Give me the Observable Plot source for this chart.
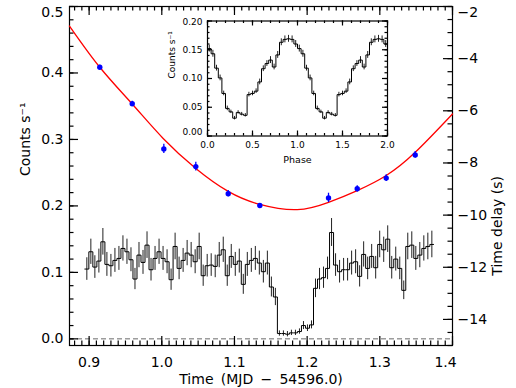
<!DOCTYPE html>
<html><head><meta charset="utf-8">
<script src="https://cdn.jsdelivr.net/npm/d3@7"></script>
<script src="https://cdn.jsdelivr.net/npm/@observablehq/plot@0.6"></script>
<style>
body{margin:0;background:#fff;}
#chart{position:relative;width:516px;height:388px;}
#chart svg{position:absolute;left:0;top:0;}
</style></head><body><div id="chart"></div>
<script>
// ---------- data ----------
const lcStart = 0.8941;       // start of first light-curve bin (MJD - 54596.0)
const lcBinWidth = 0.00552;   // bin width (days)
const lcCounts = [
  0.105,0.131,0.108,0.117,0.146,0.112,0.110,0.118,0.121,0.136,
  0.131,0.119,0.090,0.126,0.115,0.141,0.104,0.121,0.131,0.121,
  0.116,0.089,0.139,0.106,0.118,0.129,0.126,0.116,0.139,0.095,
  0.110,0.111,0.109,0.126,0.134,0.095,0.124,0.112,0.117,0.082,
  0.112,0.118,0.121,0.114,0.101,0.114,0.078,0.063,0.008,0.008,
  0.007,0.009,0.009,0.011,0.020,0.016,0.021,0.076,0.090,0.092,
  0.106,0.160,0.111,0.101,0.104,0.104,0.114,0.116,0.094,0.127,
  0.106,0.124,0.107,0.142,0.134,0.150,0.107,0.120,0.106,0.073,
  0.139,0.141,0.121,0.126,0.136,0.139,0.142];
const lcErrors = [
  0.017,0.019,0.017,0.018,0.020,0.018,0.017,0.018,0.018,0.019,
  0.019,0.018,0.016,0.019,0.018,0.020,0.017,0.018,0.019,0.018,
  0.018,0.016,0.020,0.017,0.018,0.019,0.019,0.018,0.020,0.016,
  0.017,0.017,0.017,0.019,0.019,0.016,0.018,0.018,0.018,0.015,
  0.018,0.018,0.018,0.018,0.017,0.018,0.015,0.013,0.004,0.004,
  0.004,0.004,0.004,0.004,0.006,0.005,0.006,0.014,0.016,0.016,
  0.017,0.021,0.017,0.017,0.017,0.017,0.018,0.018,0.016,0.019,
  0.017,0.018,0.017,0.020,0.019,0.020,0.017,0.018,0.017,0.014,
  0.020,0.020,0.018,0.019,0.019,0.020,0.020];

const delayTimes  = [0.9147,0.9593,1.0028,1.0468,1.0914,1.1349,1.2294,1.2689,1.3088,1.3487];
const delayValues = [-4.33,-5.73,-7.46,-8.14,-9.18,-9.63,-9.34,-8.99,-8.58,-7.69];
const delayErrors = [0.08,0.10,0.18,0.17,0.12,0.08,0.18,0.12,0.13,0.13];

const fitTimes  = [0.873,0.9147,0.9593,1.0019,1.0468,1.0914,1.1349,1.1863,1.2294,1.2689,1.3088,1.3487,1.4];
const fitDelays = [-2.75,-4.33,-5.74,-7.06,-8.21,-9.09,-9.59,-9.79,-9.51,-9.06,-8.48,-7.59,-6.12];

const phaseBinWidth = 0.04;
const phaseCounts = [0.152,0.143,0.118,0.101,0.074,0.048,0.042,0.031,0.041,0.038,
  0.036,0.072,0.074,0.078,0.094,0.117,0.126,0.132,0.120,0.141,
  0.163,0.168,0.169,0.168,0.160];
const phaseErrors = [0.006,0.006,0.005,0.005,0.004,0.004,0.003,0.003,0.003,0.003,
  0.003,0.004,0.004,0.004,0.005,0.005,0.005,0.006,0.005,0.006,
  0.006,0.006,0.006,0.006,0.006];
const phaseCycles = [0, 1];

// tick labels
const timeTicks = [0.9,1.0,1.1,1.2,1.3,1.4];
const timeMinor = d3.range(88,141).map(i => i/100);
const countTicks = [0.0,0.1,0.2,0.3,0.4,0.5];
const countMinor = d3.range(0,26).map(i => i*0.02);
const delayTicks = [-14,-12,-10,-8,-6,-4,-2];
const delayMinor = d3.range(-30,-3).map(i => i/2);
const phaseTicks = [0,0.5,1,1.5,2];
const phaseMinor = d3.range(0,21).map(i => i/10);
const phaseCountTicks = [0,0.05,0.10,0.15,0.20];
const phaseCountMinor = d3.range(0,21).map(i => i/100);

// ---------- build ----------
const W = 516, H = 388;
const font = "DejaVu Sans";
const style = {background:"transparent", fontFamily: font, overflow:"visible"};
const tickStroke = {stroke:"#000", strokeWidth:1.2};

// inward tick marks as short rules; lengths given in px, converted through the scale spans
function frameTicks(xDom, yDom, fw, fh, sides) {
  const kx = (xDom[1]-xDom[0]) / fw, ky = (yDom[1]-yDom[0]) / fh;
  const marks = [];
  for (const [side, vals, len] of sides) {
    if (side === "bottom") marks.push(Plot.ruleX(vals, {x: d => d, y1: yDom[0], y2: yDom[0] + len*ky, ...tickStroke}));
    if (side === "top")    marks.push(Plot.ruleX(vals, {x: d => d, y1: yDom[1] - len*ky, y2: yDom[1], ...tickStroke}));
    if (side === "left")   marks.push(Plot.ruleY(vals, {y: d => d, x1: xDom[0], x2: xDom[0] + len*kx, ...tickStroke}));
    if (side === "right")  marks.push(Plot.ruleY(vals, {y: d => d, x1: xDom[1] - len*kx, x2: xDom[1], ...tickStroke}));
  }
  return marks;
}

const mainM = {marginLeft:69, marginRight:64, marginTop:6, marginBottom:43};
const mainFW = W - 69 - 64, mainFH = H - 6 - 43;
const timeDom = [0.873, 1.4], countDom = [-0.01, 0.5], delayDom = [-15, -2];

const lc = lcCounts.map((c,i) => ({start: lcStart + i*lcBinWidth, mid: lcStart + (i+0.5)*lcBinWidth, c, e: lcErrors[i]}));
const lcLine = lc.map(d => ({t: d.start, c: d.c})).concat([{t: lcStart + lcCounts.length*lcBinWidth, c: lcCounts[lcCounts.length-1]}]);

const countsPlot = Plot.plot({
  width: W, height: H, ...mainM, style,
  x: {domain: timeDom, axis:null, label:null},
  y: {domain: countDom, axis:null, label:null},
  marks: [
    Plot.ruleY([0], {stroke:"#6a6a6a", strokeDasharray:"5,3", strokeWidth:1}),
    Plot.ruleX(lc, {x:"mid", y1: d => d.c - d.e, y2: d => d.c + d.e, stroke:"#222", strokeWidth:1}),
    Plot.line(lcLine, {x:"t", y:"c", curve:"step-after", stroke:"#000", strokeWidth:1}),
    Plot.frame({stroke:"#000", strokeWidth:1.2}),
    ...frameTicks(timeDom, countDom, mainFW, mainFH, [
      ["bottom", timeTicks, 9], ["bottom", timeMinor, 4.5],
      ["top", timeTicks, 9], ["top", timeMinor, 4.5],
      ["left", countTicks, 9], ["left", countMinor, 4.5]]),
    Plot.text(timeTicks.slice(0,-1), {x: d => d, text: d => d.toFixed(1), frameAnchor:"bottom", lineAnchor:"top", dy:12, fontSize:14}),
    Plot.text(timeTicks.slice(-1), {x: d => d, text: d => d.toFixed(1), frameAnchor:"bottom", lineAnchor:"top", dy:12, dx:-7, fontSize:14}),
    Plot.text(countTicks.slice(0,-1), {y: d => d, text: d => d.toFixed(1), frameAnchor:"left", textAnchor:"end", lineAnchor:"middle", dx:-6, fontSize:14}),
    Plot.text(countTicks.slice(-1), {y: d => d, text: d => d.toFixed(1), frameAnchor:"left", textAnchor:"end", lineAnchor:"middle", dx:-6, dy:6, fontSize:14}),
    Plot.text(["Counts s\u207B\u00B9"], {frameAnchor:"left", dx:-44, rotate:-90, lineAnchor:"middle", fontSize:14}),
    Plot.text(["Time\u2009 (MJD\u2009 \u2212\u2009 54596.0)"], {frameAnchor:"bottom", dy:38.5, lineAnchor:"bottom", fontSize:14})
  ]
});

const delays = delayTimes.map((t,i) => ({t, d: delayValues[i], e: delayErrors[i]}));
const fit = fitTimes.map((t,i) => ({t, d: fitDelays[i]}));
const fmtInt = d3.format("d");

const delayPlot = Plot.plot({
  width: W, height: H, ...mainM, style,
  x: {domain: timeDom, axis:null, label:null},
  y: {domain: delayDom, axis:null, label:null},
  marks: [
    Plot.line(fit, {x:"t", y:"d", curve:"natural", stroke:"#ff0000", strokeWidth:1.3}),
    Plot.ruleX(delays, {x:"t", y1: d => d.d - d.e, y2: d => d.d + d.e, stroke:"#0000ff", strokeWidth:1.3}),
    Plot.dot(delays, {x:"t", y:"d", r:2.7, fill:"#0000ff", stroke:"none"}),
    ...frameTicks(timeDom, delayDom, mainFW, mainFH, [["right", delayTicks, 9], ["right", delayMinor, 4.5]]),
    Plot.text(delayTicks.slice(0,-1), {y: d => d, text: d => fmtInt(d), frameAnchor:"right", textAnchor:"start", lineAnchor:"middle", dx:5, fontSize:14}),
    Plot.text(delayTicks.slice(-1), {y: d => d, text: d => fmtInt(d), frameAnchor:"right", textAnchor:"start", lineAnchor:"middle", dx:5, dy:6, fontSize:14}),
    Plot.text(["Time delay (s)"], {frameAnchor:"right", dx:45.5, rotate:-90, lineAnchor:"middle", fontSize:14})
  ]
});

const ph = phaseCycles.flatMap(cyc => phaseCounts.map((c,i) => ({
  start: cyc + i*phaseBinWidth, mid: cyc + (i+0.5)*phaseBinWidth, c, e: phaseErrors[i]})));
const phLine = ph.map(d => ({p: d.start, c: d.c})).concat([{p: phaseCycles.length, c: phaseCounts[phaseCounts.length-1]}]);
const insetM = {marginLeft:207, marginRight:129, marginTop:20.5, marginBottom:252.5};
const insetFW = W - 207 - 129, insetFH = H - 20.5 - 252.5;
const phaseDom = [0, 2], phaseCountDom = [0, 0.2];

const insetPlot = Plot.plot({
  width: W, height: H, ...insetM, style,
  x: {domain: phaseDom, axis:null, label:null},
  y: {domain: phaseCountDom, axis:null, label:null},
  marks: [
    Plot.ruleX(ph, {x:"mid", y1: d => d.c - d.e, y2: d => d.c + d.e, stroke:"#222", strokeWidth:1}),
    Plot.line(phLine, {x:"p", y:"c", curve:"step-after", stroke:"#000", strokeWidth:1}),
    Plot.frame({stroke:"#000", strokeWidth:1.2}),
    ...frameTicks(phaseDom, phaseCountDom, insetFW, insetFH, [
      ["bottom", phaseTicks, 5], ["bottom", phaseMinor, 2.5],
      ["top", phaseTicks, 5], ["top", phaseMinor, 2.5],
      ["left", phaseCountTicks, 5], ["left", phaseCountMinor, 2.5],
      ["right", phaseCountTicks, 5], ["right", phaseCountMinor, 2.5]]),
    Plot.text(phaseTicks, {x: d => d, text: d => d.toFixed(1), frameAnchor:"bottom", lineAnchor:"top", dy:6, fontSize:9}),
    Plot.text(phaseCountTicks.slice(1,-1), {y: d => d, text: d => d.toFixed(2), frameAnchor:"left", textAnchor:"end", lineAnchor:"middle", dx:-5, fontSize:9}),
    Plot.text(phaseCountTicks.slice(0,1), {y: d => d, text: d => d.toFixed(2), frameAnchor:"left", textAnchor:"end", lineAnchor:"middle", dx:-5, dy:-3.5, fontSize:9}),
    Plot.text(phaseCountTicks.slice(-1), {y: d => d, text: d => d.toFixed(2), frameAnchor:"left", textAnchor:"end", lineAnchor:"middle", dx:-5, dy:1.5, fontSize:9}),
    Plot.text(["Counts s\u207B\u00B9"], {frameAnchor:"left", dx:-35, rotate:-90, lineAnchor:"middle", fontSize:9}),
    Plot.text(["Phase"], {frameAnchor:"bottom", dy:26.5, lineAnchor:"bottom", fontSize:9.5})
  ]
});

const chart = document.getElementById("chart");
chart.append(countsPlot, delayPlot, insetPlot);
</script>
</body></html>
